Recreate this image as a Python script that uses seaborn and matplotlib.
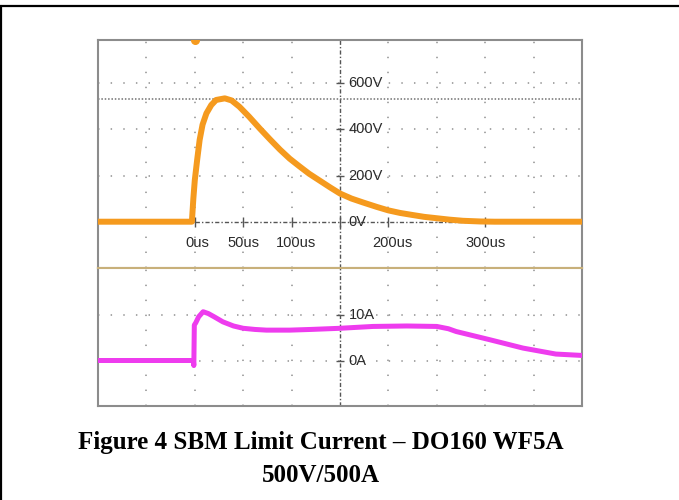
import numpy as np
import pandas as pd
import matplotlib
matplotlib.use("Agg")
import matplotlib.pyplot as plt
from matplotlib.lines import Line2D
import seaborn as sns

# ---------------- data ----------------
v_time_us = [-100, -3, -1.5, 0, 2.5, 5, 8, 12, 17, 22, 31, 38, 46, 56, 67, 78, 88,
             98, 108, 118, 129, 140, 150, 162, 174, 188, 200, 212, 225, 237, 250,
             263, 277, 295, 310, 400]
v_volts = [0, 0, 100, 180, 270, 354, 420, 469, 505, 527, 534, 525, 498, 455, 404,
           355, 312, 273, 240, 208, 178, 148, 122, 100, 83, 64, 49, 38, 29, 21, 15,
           9, 4, 1, 0, 0]

i_time_us = [-100, -1.5, -1, -0.5, 1, 4, 8.6, 14, 20, 29, 40, 50, 62, 74, 98, 120,
             150, 184, 219, 250, 262, 270, 305, 339, 373, 400]
i_amps = [0.1, 0.1, -1.0, 7.8, 8.3, 9.6, 10.7, 10.3, 9.6, 8.5, 7.6, 7.1, 6.85, 6.7,
          6.7, 6.85, 7.1, 7.5, 7.6, 7.5, 7.0, 6.4, 4.6, 2.8, 1.5, 1.2]

time_ticks = [0, 50, 100, 200, 300]
time_labels = ["0us", "50us", "100us", "200us", "300us"]
volt_levels = [600, 400, 200, 0]
volt_labels = ["600V", "400V", "200V", "0V"]
amp_levels = [10, 0]
amp_labels = ["10A", "0A"]
cursor_volts = 531

caption_1 = "Figure 4 SBM Limit Current \u2013 DO160 WF5A"
caption_2 = "500V/500A"

# ---------------- style ----------------
sns.set_theme(style="white")
plt.rcParams["font.family"] = ["Liberation Sans", "DejaVu Sans"]

ORANGE = "#F59A1E"
MAGENTA = "#EE3CEE"
GRID = "#A0A0A0"
DARK = "#555555"
TXT = "#2A2A2A"
TAN = "#C8B07A"

fig = plt.figure(figsize=(6.79, 5.0), dpi=100)
W, H = 679.0, 500.0
x0, x1 = 98 / W, 582 / W
ax_v = fig.add_axes([x0, 1 - 268 / H, x1 - x0, (268 - 40) / H])
ax_i = fig.add_axes([x0, 1 - 405.6 / H, x1 - x0, (405.6 - 268) / H])

XL = (-100, 400)
VL = (-200.4, 786.6)
IL = (-9.7, 20.2)

grid_x = [-50, 0, 50, 100, 200, 250, 300, 350]
for ax in (ax_v, ax_i):
    ax.set_xticks([])
    ax.set_yticks([])
    ax.set_facecolor("white")
    for s in ax.spines.values():
        s.set_color("#8C8C8C")
        s.set_linewidth(1.5)
    for gx in grid_x:
        ax.axvline(gx, color=GRID, lw=1.3, ls=(0, (0.8, 7.5)), zorder=1)
    # centre axis (dash-dot)
    ax.axvline(150, color=DARK, lw=1.0, ls=(0, (3, 1.5, 1, 1.5)), zorder=2)

ax_v.spines["bottom"].set_color(TAN)
ax_i.spines["top"].set_color(TAN)

# horizontal grid lines
for lv in [600, 400, 200]:
    ax_v.axhline(lv, color=GRID, lw=1.3, ls=(0, (0.8, 6.2)), zorder=1)
ax_v.axhline(0, color=DARK, lw=1.0, ls=(0, (3, 1.5, 1, 1.5)), zorder=2)
ax_v.axhline(cursor_volts, color="#707070", lw=1.1, ls=(0, (1, 1.2)), zorder=2)
for la in amp_levels:
    ax_i.axhline(la, color=GRID, lw=1.3, ls=(0, (0.8, 6.2)), zorder=1)

# small tick marks on centre axes
ax_v.scatter(time_ticks + [150], [0] * 6, marker="|", s=60, color=DARK, lw=1.0, zorder=3)
ax_v.scatter([150] * 3, [600, 400, 200], marker="_", s=40, color=DARK, lw=1.0, zorder=3)
ax_i.scatter([150] * 2, amp_levels, marker="_", s=40, color=DARK, lw=1.0, zorder=3)

# traces
dv = pd.DataFrame({"t": v_time_us, "v": v_volts})
di = pd.DataFrame({"t": i_time_us, "a": i_amps})
sns.lineplot(data=dv, x="t", y="v", ax=ax_v, color=ORANGE, lw=4.3, sort=False,
             estimator=None, zorder=4, solid_joinstyle="round")
sns.lineplot(data=di, x="t", y="a", ax=ax_i, color=MAGENTA, lw=3.6, sort=False,
             estimator=None, zorder=4, solid_joinstyle="round")
for ax in (ax_v, ax_i):
    ax.set_xlabel("")
    ax.set_ylabel("")
    ax.set_xlim(XL)
ax_v.set_ylim(VL)
ax_i.set_ylim(IL)

# trigger marker
ax_v.scatter([0], [VL[1]], marker="o", s=30, color=ORANGE, zorder=5, clip_on=True)

# labels
FS = 10.5
for lv, lab in zip(volt_levels, volt_labels):
    ax_v.text(159, lv, lab, fontsize=FS, color=TXT, ha="left", va="center", zorder=6)
for la, lab in zip(amp_levels, amp_labels):
    ax_i.text(159, la, lab, fontsize=FS, color=TXT, ha="left", va="center", zorder=6)
label_x = [3, 50.6, 105, 204.5, 300.6]
for lx, lab in zip(label_x, time_labels):
    ax_v.text(lx, -92, lab, fontsize=FS, color=TXT, ha="center", va="center", zorder=6)

# caption
fig.text(321 / W, 1 - 449 / H, caption_1, ha="center", va="baseline", color="black",
         family=["Liberation Serif", "DejaVu Serif"], weight="bold", fontsize=18)
fig.text(321 / W, 1 - 481.7 / H, caption_2, ha="center", va="baseline", color="black",
         family=["Liberation Serif", "DejaVu Serif"], weight="bold", fontsize=18)

# outer page border (top and left)
fig.add_artist(Line2D([0, 1], [1 - 6 / H, 1 - 6 / H], transform=fig.transFigure,
                      color="black", lw=1.6))
fig.add_artist(Line2D([1 / W, 1 / W], [0, 1 - 6 / H], transform=fig.transFigure,
                      color="black", lw=1.6))

fig.savefig("out.png", dpi=100, facecolor="white")
